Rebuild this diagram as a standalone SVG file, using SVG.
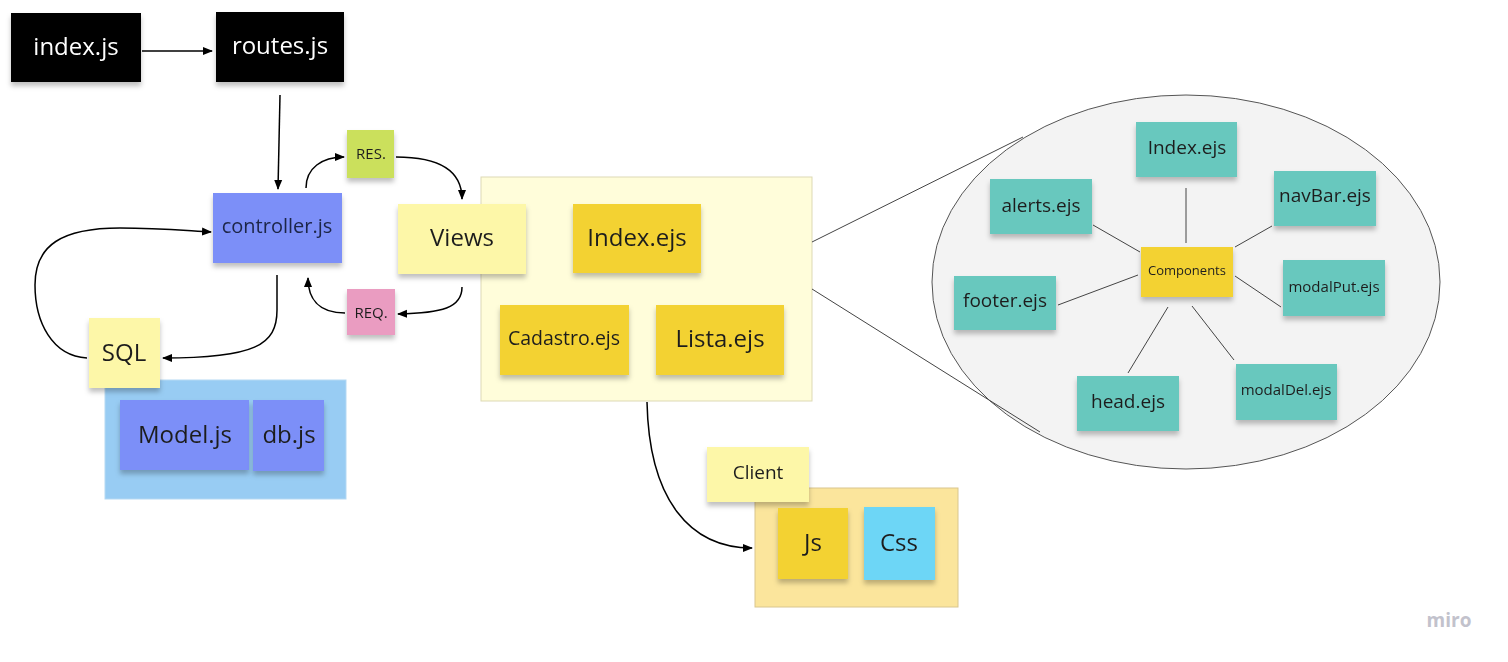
<svg xmlns="http://www.w3.org/2000/svg" width="1508" height="662" viewBox="0 0 1508 662">
<style>
text{font-family:"Open Sans","Noto Sans","Liberation Sans",sans-serif;fill:#1f1f1f;text-anchor:middle;dominant-baseline:central}
.white{fill:#ffffff}
.note{filter:url(#sh)}
.blk{fill:#000000}
.blue{fill:#7b8ff8}
.pale{fill:#fdf7a8}
.gold{fill:#f3d232}
.teal{fill:#67c8be}
.arrow{fill:none;stroke:#000;stroke-width:1.5}
.thin{fill:none;stroke:#444;stroke-width:1}
</style>
<defs>
<filter id="sh" x="-10%" y="-10%" width="120%" height="140%">
<feDropShadow dx="0" dy="4" stdDeviation="2.5" flood-color="#000" flood-opacity="0.25"/>
</filter>
<marker id="ah" viewBox="0 0 10 10" refX="9" refY="5" markerWidth="10" markerHeight="10" markerUnits="userSpaceOnUse" orient="auto">
<path d="M0,1 L10,5 L0,9 Z" fill="#000"/>
</marker>
</defs>
<rect width="1508" height="662" fill="#ffffff"/>

<g id="containers">
<rect id="model-box" x="105" y="380" width="241" height="119" fill="#98ccf3" stroke="#b5d9f3" stroke-width="1"/>
<rect id="views-box" x="481" y="177" width="331" height="224" fill="#fffdda" stroke="#ddd9b5" stroke-width="1"/>
<rect id="client-box" x="755" y="488" width="203" height="119" fill="#fbe59c" stroke="#d9c68e" stroke-width="1"/>
<ellipse id="components-area" cx="1186" cy="282" rx="254" ry="187" fill="#f3f3f3" stroke="#555" stroke-width="1"/>
</g>

<g id="connectors">
<path class="arrow" d="M142,51 L212,51" marker-end="url(#ah)"/>
<path class="arrow" d="M280,95 L278,189" marker-end="url(#ah)"/>
<path class="arrow" d="M306,188 C306,168 322,157 344,157" marker-end="url(#ah)"/>
<path class="arrow" d="M396,157 C435,157 462,168 462,199" marker-end="url(#ah)"/>
<path class="arrow" d="M462,287 C462,308 442,313 398,314" marker-end="url(#ah)"/>
<path class="arrow" d="M345,313 C318,313 308,298 308,278" marker-end="url(#ah)"/>
<path class="arrow" d="M277,275 L277,310 C277,345 255,358 163,358" marker-end="url(#ah)"/>
<path class="arrow" d="M87,358 C52,356 35,322 35,285 C35,245 62,228 120,228 C160,228 190,231 211,232" marker-end="url(#ah)"/>
<path class="arrow" d="M647,402 C649,500 690,548 752,548" marker-end="url(#ah)"/>
<path class="thin" d="M812,242 L1023,137"/>
<path class="thin" d="M812,289 L1040,432"/>
<path class="thin" d="M1186,188 L1186,243"/>
<path class="thin" d="M1093,225 L1140,252"/>
<path class="thin" d="M1272,226 L1235,247"/>
<path class="thin" d="M1058,305 L1138,275"/>
<path class="thin" d="M1235,276 L1281,307"/>
<path class="thin" d="M1168,307 L1128,373"/>
<path class="thin" d="M1192,306 L1234,360"/>
</g>

<g id="index-js" class="note"><rect class="blk" x="11" y="13" width="130" height="69"/><text class="white" x="76" y="45" font-size="24">index.js</text></g>
<g id="routes-js" class="note"><rect class="blk" x="216" y="12" width="128" height="70"/><text class="white" x="280" y="44" font-size="24">routes.js</text></g>
<g id="controller-js" class="note"><rect class="blue" x="213" y="193" width="129" height="70"/><text x="277" y="225" font-size="20" style="fill:#1e2547">controller.js</text></g>
<g id="res" class="note"><rect x="347" y="130" width="47" height="48" fill="#cbe05c"/><text x="371" y="153" font-size="15">RES.</text></g>
<g id="req" class="note"><rect x="347" y="289" width="48" height="46" fill="#ea9cc1"/><text x="371" y="312" font-size="15">REQ.</text></g>
<g id="views" class="note"><rect class="pale" x="398" y="204" width="128" height="70"/><text x="462" y="236" font-size="24">Views</text></g>
<g id="sql" class="note"><rect class="pale" x="89" y="318" width="71" height="70"/><text x="124" y="351" font-size="24">SQL</text></g>
<g id="model-js" class="note"><rect class="blue" x="120" y="400" width="129" height="70"/><text x="185" y="433" font-size="24">Model.js</text></g>
<g id="db-js" class="note"><rect class="blue" x="253" y="400" width="71" height="71"/><text x="289" y="433" font-size="24">db.js</text></g>

<g id="index-ejs" class="note"><rect class="gold" x="573" y="204" width="128" height="69"/><text x="637" y="236" font-size="24">Index.ejs</text></g>
<g id="cadastro-ejs" class="note"><rect class="gold" x="500" y="305" width="129" height="70"/><text x="564" y="337" font-size="19.5">Cadastro.ejs</text></g>
<g id="lista-ejs" class="note"><rect class="gold" x="656" y="305" width="128" height="70"/><text x="720" y="337" font-size="24">Lista.ejs</text></g>

<g id="client" class="note"><rect class="pale" x="707" y="447" width="102" height="55"/><text x="758" y="472" font-size="19">Client</text></g>
<g id="js" class="note"><rect class="gold" x="778" y="508" width="70" height="71"/><text x="813" y="541" font-size="24">Js</text></g>
<g id="css" class="note"><rect x="864" y="507" width="71" height="73" fill="#6dd6f6"/><text x="899" y="541" font-size="24">Css</text></g>

<g id="comp-index" class="note"><rect class="teal" x="1136" y="122" width="101" height="55"/><text x="1187" y="147" font-size="19">Index.ejs</text></g>
<g id="alerts" class="note"><rect class="teal" x="990" y="179" width="102" height="55"/><text x="1041" y="205" font-size="19">alerts.ejs</text></g>
<g id="navbar" class="note"><rect class="teal" x="1274" y="171" width="102" height="55"/><text x="1325" y="195" font-size="19">navBar.ejs</text></g>
<g id="footer" class="note"><rect class="teal" x="954" y="276" width="102" height="54"/><text x="1005" y="300" font-size="19">footer.ejs</text></g>
<g id="components" class="note"><rect class="gold" x="1141" y="247" width="92" height="50"/><text x="1187" y="270" font-size="13">Components</text></g>
<g id="modalput" class="note"><rect class="teal" x="1283" y="260" width="102" height="56"/><text x="1334" y="286" font-size="15">modalPut.ejs</text></g>
<g id="head" class="note"><rect class="teal" x="1077" y="376" width="102" height="55"/><text x="1128" y="401" font-size="19">head.ejs</text></g>
<g id="modaldel" class="note"><rect class="teal" x="1236" y="364" width="101" height="56"/><text x="1286" y="389" font-size="15">modalDel.ejs</text></g>

<text x="1449" y="620" font-size="19" font-weight="bold" style="fill:#c2c2cc">miro</text>
</svg>
